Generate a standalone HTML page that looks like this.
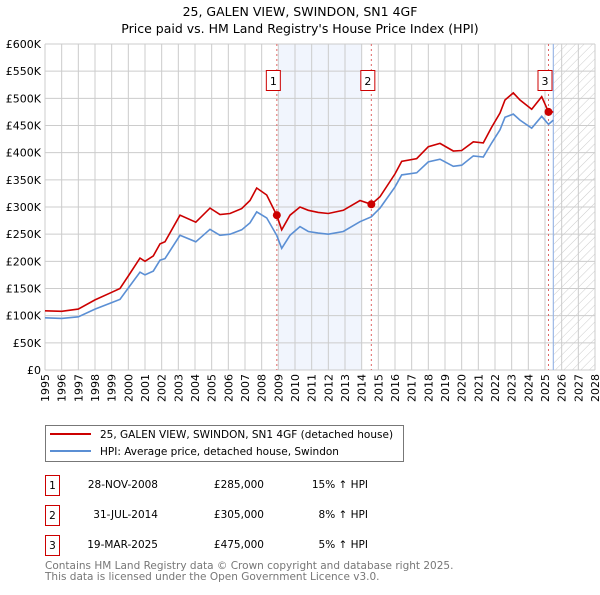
<!DOCTYPE html>
<html><head><meta charset="utf-8">
<style>
body{margin:0;background:#fff;font-family:"Liberation Sans","DejaVu Sans",sans-serif;}
svg text{font-family:"DejaVu Sans","Liberation Sans",sans-serif;}
</style></head>
<body>
<svg id="chart" width="600" height="590" xmlns="http://www.w3.org/2000/svg">
<text x="300" y="16" text-anchor="middle" font-size="12.5">25, GALEN VIEW, SWINDON, SN1 4GF</text>
<text x="300" y="33" text-anchor="middle" font-size="12.5">Price paid vs. HM Land Registry's House Price Index (HPI)</text>
<defs><pattern id="hatch" width="6" height="6" patternUnits="userSpaceOnUse" patternTransform="rotate(45)"><line x1="0" y1="0" x2="0" y2="6" stroke="#ccc" stroke-width="1"/></pattern></defs>
<g id="plot"></g>
<g>
<rect x="45.5" y="425.5" width="358" height="36" fill="#fff" stroke="#777"/>
<line x1="50" y1="434" x2="91" y2="434" stroke="#cc0000" stroke-width="2"/>
<text x="100" y="438" font-size="10.5">25, GALEN VIEW, SWINDON, SN1 4GF (detached house)</text>
<line x1="50" y1="451" x2="91" y2="451" stroke="#5b8fd4" stroke-width="2"/>
<text x="100" y="455" font-size="10.5">HPI: Average price, detached house, Swindon</text>
</g>
<g font-size="10.5">
<rect x="45.5" y="475.5" width="14" height="20" fill="#fff" stroke="#cc0000"/><text x="52.5" y="489" text-anchor="middle">1</text>
<text x="158" y="488" text-anchor="end">28-NOV-2008</text><text x="264" y="488" text-anchor="end">£285,000</text><text x="368" y="488" text-anchor="end">15% ↑ HPI</text>
<rect x="45.5" y="505.5" width="14" height="20" fill="#fff" stroke="#cc0000"/><text x="52.5" y="519" text-anchor="middle">2</text>
<text x="158" y="518" text-anchor="end">31-JUL-2014</text><text x="264" y="518" text-anchor="end">£305,000</text><text x="368" y="518" text-anchor="end">8% ↑ HPI</text>
<rect x="45.5" y="535.5" width="14" height="20" fill="#fff" stroke="#cc0000"/><text x="52.5" y="549" text-anchor="middle">3</text>
<text x="158" y="548" text-anchor="end">19-MAR-2025</text><text x="264" y="548" text-anchor="end">£475,000</text><text x="368" y="548" text-anchor="end">5% ↑ HPI</text>
</g>
<text x="45" y="569" font-size="10.5" fill="#777">Contains HM Land Registry data © Crown copyright and database right 2025.</text>
<text x="45" y="580" font-size="10.5" fill="#777">This data is licensed under the Open Government Licence v3.0.</text>
</svg>
<script>
const dates=[1995,1996,1997,1998,1999,1999.5,2000,2000.7,2001,2001.5,2001.9,2002.2,2003.1,2004.05,2004.9,2005.5,2006.1,2006.8,2007.3,2007.7,2008.3,2008.9,2009.2,2009.7,2010.3,2010.8,2011.4,2012,2012.9,2013.9,2014.58,2015.1,2016,2016.4,2017.3,2018,2018.7,2019.5,2020,2020.7,2021.3,2021.8,2022.3,2022.6,2023.1,2023.5,2024.2,2024.8,2025.21,2025.5];
const hpiSeries=[96,95,98,112,124,130,151,180,175,182,202,205,248,236,259,248,250,258,271,291,280,248,224,248,264,255,252,250,255,273,282,298,337,359,363,383,388,375,377,394,392,418,442,465,471,460,445,467,452,460];
const priceSeries=[109,108,112,129,143,150,173,206,200,210,232,236,285,272,298,286,288,297,312,335,322,285,258,285,300,294,290,288,294,312,305,319,361,384,389,411,417,403,404,420,418,447,473,497,510,497,480,503,475,475];
const yTicks=[0,50,100,150,200,250,300,350,400,450,500,550,600];
const yTickLabels=["£0","£50K","£100K","£150K","£200K","£250K","£300K","£350K","£400K","£450K","£500K","£550K","£600K"];
const xTicks=[1995,1996,1997,1998,1999,2000,2001,2002,2003,2004,2005,2006,2007,2008,2009,2010,2011,2012,2013,2014,2015,2016,2017,2018,2019,2020,2021,2022,2023,2024,2025,2026,2027,2028];
const saleDates=[2008.91,2014.58,2025.21];
const salePrices=[285,305,475];
const saleLabels=["1","2","3"];
const shadeRange=[2009,2014];
const forecastStart=2025.5;

const X0=45,X1=595,Y0=370,Y1=44;
const xs=d=>X0+(d-1995)/(2028-1995)*(X1-X0);
const ys=v=>Y0-v/600*(Y0-Y1);
const NS="http://www.w3.org/2000/svg";
const g=document.getElementById('plot');
function mk(t,a){const e=document.createElementNS(NS,t);for(const k in a)e.setAttribute(k,a[k]);g.appendChild(e);return e;}

let e=mk('rect',{x:xs(shadeRange[0]),y:Y1,width:xs(shadeRange[1])-xs(shadeRange[0]),height:Y0-Y1,fill:'#eef3fc',opacity:0.8});


e=mk('rect',{x:xs(forecastStart),y:Y1,width:X1-xs(forecastStart),height:Y0-Y1,fill:'url(#hatch)'});



yTicks.forEach((v,i)=>{
 let l=mk('line',{x1:X0,x2:X1,y1:ys(v),y2:ys(v),stroke:'#ccc','stroke-width':1});
 
 
 let t=mk('text',{x:41,y:ys(v)+4,'text-anchor':'end','font-size':11});
 t.textContent=yTickLabels[i];
 
 
});
xTicks.forEach(d=>{
 let l=mk('line',{x1:xs(d),x2:xs(d),y1:Y1,y2:Y0,stroke:'#ccc','stroke-width':1});
 
 
 let t=mk('text',{x:0,y:0,'text-anchor':'end','font-size':11,transform:`translate(${xs(d)+4},374) rotate(-90)`});
 t.textContent=String(d);
 
 
});
e=mk('line',{x1:xs(forecastStart),x2:xs(forecastStart),y1:Y1,y2:Y0,stroke:'#9bb8e6','stroke-width':1.2});



saleDates.forEach((d,i)=>{
 let l=mk('line',{x1:xs(d),x2:xs(d),y1:Y1,y2:Y0,stroke:'#e06666','stroke-width':1,'stroke-dasharray':'2,3'});
 
 
 let r=mk('rect',{x:xs(d)-10.5,y:70.5,width:14,height:20,fill:'#fff',stroke:'#cc0000'});
 
 
 let t=mk('text',{x:xs(d)-3.5,y:85,'text-anchor':'middle','font-size':11});
 t.textContent=saleLabels[i];
 
 
});

function path(vals){return vals.map((v,i)=>(i?'L':'M')+xs(dates[i]).toFixed(1)+','+ys(v).toFixed(1)).join('');}
e=mk('path',{d:path(hpiSeries),fill:'none',stroke:'#5b8fd4','stroke-width':1.6});


e=mk('path',{d:path(priceSeries),fill:'none',stroke:'#cc0000','stroke-width':1.6});


saleDates.forEach((d,i)=>{
 let c=mk('circle',{cx:xs(d),cy:ys(salePrices[i]),r:4,fill:'#cc0000'});
 
 
});
</script>
</body></html>
